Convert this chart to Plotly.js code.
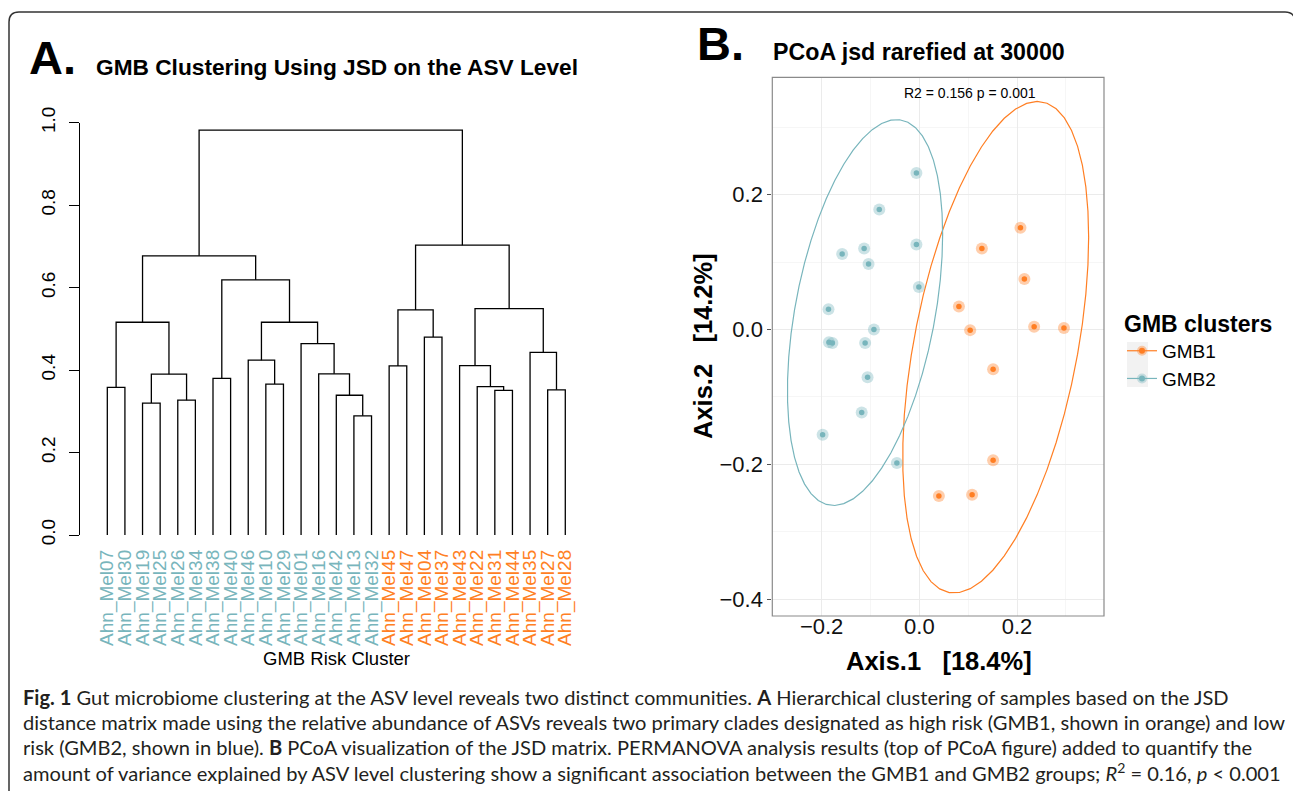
<!DOCTYPE html>
<html><head><meta charset="utf-8">
<script src="https://cdn.plot.ly/plotly-3.0.1.min.js"></script>
<style>html,body{margin:0;padding:0;background:#fff;} #chart{width:1293px;height:791px;}</style>
</head><body><div id="chart"></div>
<script>
// ---------------- DATA ----------------
// Panel A: dendrogram (leaf order, cluster membership, hclust-style merges)
const leafLabels = ['Ahn_Mel07','Ahn_Mel30','Ahn_Mel19','Ahn_Mel25','Ahn_Mel26','Ahn_Mel34','Ahn_Mel38','Ahn_Mel40',
  'Ahn_Mel46','Ahn_Mel10','Ahn_Mel29','Ahn_Mel01','Ahn_Mel16','Ahn_Mel42','Ahn_Mel13','Ahn_Mel32',
  'Ahn_Mel45','Ahn_Mel47','Ahn_Mel04','Ahn_Mel37','Ahn_Mel43','Ahn_Mel22','Ahn_Mel31','Ahn_Mel44','Ahn_Mel35','Ahn_Mel27','Ahn_Mel28'];
const leafCluster = ['GMB2','GMB2','GMB2','GMB2','GMB2','GMB2','GMB2','GMB2','GMB2','GMB2','GMB2','GMB2','GMB2','GMB2','GMB2','GMB2',
  'GMB1','GMB1','GMB1','GMB1','GMB1','GMB1','GMB1','GMB1','GMB1','GMB1','GMB1'];
// negative = leaf position (1-based), positive = earlier merge step (1-based)
const mergeLeft   = [-1,-3,-5, 2, 1,-7,-10,-9,-15,-14,-13,-12, 8, 6, 5,-17,-19,16,-23,-22,-21,-26,-25,21,18,15];
const mergeRight  = [-2,-4,-6, 3, 4,-8,-11, 7,-16,  9, 10, 11,12,13,14,-18,-20,17,-24, 19, 20,-27, 22,23,24,25];
const mergeHeight = [0.358,0.320,0.327,0.390,0.516,0.380,0.366,0.424,0.289,0.339,0.391,0.464,0.516,0.619,0.677,
  0.410,0.480,0.546,0.351,0.360,0.411,0.352,0.443,0.549,0.703,0.982];
const dendroTicks = [0.0,0.2,0.4,0.6,0.8,1.0];

// Panel B: PCoA coordinates
const gmb1X = [0.207,0.128,0.215,0.081,0.104,0.235,0.296,0.151,0.151,0.040,0.108];
const gmb1Y = [0.151,0.120,0.075,0.034,-0.001,0.004,0.002,-0.059,-0.194,-0.247,-0.245];
const gmb2X = [-0.006,-0.082,-0.006,-0.158,-0.113,-0.104,-0.001,-0.186,-0.093,-0.185,-0.178,-0.111,-0.106,-0.118,-0.198,-0.046];
const gmb2Y = [0.232,0.178,0.126,0.112,0.120,0.097,0.063,0.030,0.000,-0.019,-0.020,-0.020,-0.071,-0.123,-0.156,-0.198];
const groupNames = ['GMB1','GMB2'];
const permanovaText = 'R2 = 0.156 p = 0.001';

// ---------------- STYLE ----------------
const W = 1293, H = 791;
const ORANGE = '#FF7F24', BLUE = '#78B5BC';
const HALO = {GMB1:'rgba(255,127,36,0.38)', GMB2:'rgba(120,181,188,0.38)'};
const COL = {GMB1:ORANGE, GMB2:BLUE};
const F = 'Liberation Sans, Arial, Helvetica, sans-serif';
const px = v => v / W;
const py = v => 1 - v / H;

// ---------------- DENDROGRAM SEGMENTS ----------------
const nodeX = [], nodeH = [];
function child(c){ return c < 0 ? [-c, 0] : [nodeX[c-1], nodeH[c-1]]; }
const dx = [], dy = [];
for (let k = 0; k < mergeHeight.length; k++) {
  const [xl, hl] = child(mergeLeft[k]);
  const [xr, hr] = child(mergeRight[k]);
  const h = mergeHeight[k];
  nodeX.push((xl + xr) / 2); nodeH.push(h);
  dx.push(xl, xl, xr, xr, null);
  dy.push(hl, h, h, hr, null);
}
const leafPos = leafLabels.map((_, i) => i + 1);
const leafText = leafLabels.map((l, i) => `<span style="color:${COL[leafCluster[i]]}">${l}</span>`);

// ---------------- ELLIPSE (stat_ellipse, type t, level .95) ----------------
function covTrob(xs, ys, nu = 5, maxit = 25, tol = 0.01) {
  const n = xs.length, p = 2;
  let loc = [xs.reduce((a,b)=>a+b,0)/n, ys.reduce((a,b)=>a+b,0)/n];
  let w = new Array(n).fill(1);
  let X;
  for (let it = 0; it < maxit; it++) {
    const w0 = w.slice();
    X = xs.map((x, i) => [x - loc[0], ys[i] - loc[1]]);
    const sw = w.reduce((a,b)=>a+b,0);
    let a = 0, b = 0, c = 0;
    for (let i = 0; i < n; i++) { const f = w[i]/sw; a += f*X[i][0]*X[i][0]; b += f*X[i][0]*X[i][1]; c += f*X[i][1]*X[i][1]; }
    const det = a*c - b*b;
    w = X.map(v => (nu + p) / (nu + (c*v[0]*v[0] - 2*b*v[0]*v[1] + a*v[1]*v[1]) / det));
    const sw2 = w.reduce((s,v)=>s+v,0);
    loc = [w.reduce((s,v,i)=>s+v*xs[i],0)/sw2, w.reduce((s,v,i)=>s+v*ys[i],0)/sw2];
    if (w.every((v, i) => Math.abs(v - w0[i]) < tol)) break;
  }
  let a = 0, b = 0, c = 0;
  for (let i = 0; i < n; i++) { a += w[i]*X[i][0]*X[i][0]; b += w[i]*X[i][0]*X[i][1]; c += w[i]*X[i][1]*X[i][1]; }
  return {center: loc, cov: [a/n, b/n, c/n]};
}
function ellipse(xs, ys, level = 0.95, segments = 51) {
  const {center, cov} = covTrob(xs, ys);
  const d2 = xs.length - 1;
  const fq = (d2/2) * (Math.pow(1 - level, -2/d2) - 1);
  const r = Math.sqrt(2 * fq);
  const r11 = Math.sqrt(cov[0]), r12 = cov[1]/r11, r22 = Math.sqrt(cov[2] - r12*r12);
  const ex = [], ey = [];
  for (let k = 0; k <= segments; k++) {
    const t = k * 2 * Math.PI / segments, co = Math.cos(t), si = Math.sin(t);
    ex.push(center[0] + r * co * r11);
    ey.push(center[1] + r * (co * r12 + si * r22));
  }
  return [ex, ey];
}

const groupsX = {GMB1: gmb1X, GMB2: gmb2X};
const groupsY = {GMB1: gmb1Y, GMB2: gmb2Y};

const traces = [{
  type:'scatter', mode:'lines', x: dx, y: dy, xaxis:'x', yaxis:'y',
  line:{color:'#000', width:1.3}, hoverinfo:'skip', showlegend:false
}];
groupNames.forEach(g => {
  const [ex, ey] = ellipse(groupsX[g], groupsY[g]);
  traces.push({type:'scatter', mode:'lines', x:ex, y:ey, xaxis:'x2', yaxis:'y2',
    line:{color:COL[g], width:1.2}, showlegend:false, hoverinfo:'skip'});
});
groupNames.forEach(g => {
  traces.push({type:'scatter', mode:'markers', x:groupsX[g], y:groupsY[g], xaxis:'x2', yaxis:'y2',
    marker:{size:12, color:HALO[g]}, showlegend:false, hoverinfo:'skip'});
  traces.push({type:'scatter', mode:'markers', x:groupsX[g], y:groupsY[g], xaxis:'x2', yaxis:'y2',
    marker:{size:5.5, color:COL[g]}, showlegend:false, name:g});
});
groupNames.forEach(g => {
  traces.push({type:'scatter', mode:'lines+markers', x:[null], y:[null], xaxis:'x2', yaxis:'y2', name:g,
    line:{color:COL[g], width:1.2}, marker:{size:6, color:COL[g], line:{width:4, color:HALO[g]}}, showlegend:true});
});

function ann(text, x, y, size, opts = {}) {
  return Object.assign({text, x:px(x), y:py(y), xref:'paper', yref:'paper', showarrow:false,
    xanchor:'left', yanchor:'middle', font:{family:F, size, color:'#000'}}, opts);
}
const CF = 'Lato, Open Sans, sans-serif';
const capFont = {family: CF, size: 20.1, color:'#231F20'};
const annotations = [
  ann('<b>A.</b>', 27, 57, 47),
  ann('<b>GMB Clustering Using JSD on the ASV Level</b>', 94, 67, 22.7),
  ann('<b>B.</b>', 695, 44, 47),
  ann('<b>PCoA jsd rarefied at 30000</b>', 771, 52, 23.2),
  ann(permanovaText, 970, 93, 14, {xanchor:'center'}),
  ann('GMB Risk Cluster', 336, 658, 18.5, {xanchor:'center'}),
  ann('<b>Axis.1\u00a0\u00a0\u00a0[18.4%]</b>', 939, 661, 25.5, {xanchor:'center'}),
  ann('<b>Axis.2\u00a0\u00a0\u00a0[14.2%]</b>', 703, 346, 25.5, {xanchor:'center', textangle:-90}),
  ann('<b>Fig. 1</b> Gut microbiome clustering at the ASV level reveals two distinct communities. <b>A</b> Hierarchical clustering of samples based on the JSD', 21, 697, 20.1, {font:capFont}),
  ann('distance matrix made using the relative abundance of ASVs reveals two primary clades designated as high risk (GMB1, shown in orange) and low', 21, 722, 20.1, {font:capFont}),
  ann('risk (GMB2, shown in blue). <b>B</b> PCoA visualization of the JSD matrix. PERMANOVA analysis results (top of PCoA figure) added to quantify the', 21, 747, 20.1, {font:capFont}),
  ann('amount of variance explained by ASV level clustering show a significant association between the GMB1 and GMB2 groups; <i>R</i><sup>2</sup> = 0.16, <i>p</i> &lt; 0.001', 21, 772, 20.1, {font:capFont}),
];

const border = `M ${px(9)},${py(830)} L ${px(9)},${py(22)} Q ${px(9)},${py(12)} ${px(19)},${py(12)} L ${px(1285)},${py(12)} Q ${px(1295)},${py(12)} ${px(1295)},${py(22)} L ${px(1295)},${py(830)}`;

const layout = {
  width: W, height: H, margin:{l:0, r:0, t:0, b:0},
  paper_bgcolor:'#fff', plot_bgcolor:'rgba(0,0,0,0)',
  font:{family:F, color:'#000'},
  showlegend:true,
  xaxis:{domain:[px(98.5), px(574.1)], range:[0.5, 27.5], anchor:'y', showgrid:false, zeroline:false, showline:false,
    tickmode:'array', tickvals:leafPos, ticktext:leafText, tickangle:-90, ticks:'', tickfont:{family:F, size:19},
    ticklabelstandoff:10, fixedrange:true},
  yaxis:{domain:[py(535), py(122.7)], range:[0, 1], anchor:'free', position:px(79), showgrid:false, zeroline:false,
    showline:true, linecolor:'#000', linewidth:1, ticks:'outside', ticklen:10, tickcolor:'#000',
    tickmode:'array', tickvals:dendroTicks, tickformat:'.1f', tickangle:-90, tickfont:{family:F, size:19}, ticklabelstandoff:6},
  xaxis2:{domain:[px(772.3), px(1104)], range:[-0.301, 0.378], anchor:'free', position:py(611), tick0:0, dtick:0.2, tickformat:'.1f',
    ticks:'', tickfont:{family:F, size:22, color:'#111'},
    showgrid:true, gridcolor:'#EBEBEB', gridwidth:1,
    minor:{tick0:0, dtick:0.1, showgrid:true, gridcolor:'#F2F2F2', gridwidth:0.7},
    showline:false, zeroline:false},
  yaxis2:{domain:[py(616), py(77.3)], range:[-0.425, 0.374], anchor:'x2', tick0:0, dtick:0.2, tickformat:'.1f',
    ticks:'outside', ticklen:4, tickcolor:'#555', tickfont:{family:F, size:22, color:'#111'},
    showgrid:true, gridcolor:'#EBEBEB', gridwidth:1,
    minor:{tick0:0, dtick:0.1, showgrid:true, gridcolor:'#F2F2F2', gridwidth:0.7},
    showline:false, zeroline:false},
  legend:{x:px(1122), y:py(302), xanchor:'left', yanchor:'top', bgcolor:'rgba(0,0,0,0)',
    font:{family:F, size:19, color:'#000'}, title:{text:'<b>GMB clusters</b>', font:{family:F, size:23}},
    tracegroupgap:0, itemwidth:30},
  shapes:[
    {type:'path', xref:'paper', yref:'paper', path:border, line:{color:'#333', width:1.5}},
    {type:'rect', xref:'x2 domain', yref:'y2 domain', x0:0, x1:1, y0:0, y1:1, line:{color:'#8A8A8A', width:1.2}, layer:'above'},
    {type:'rect', xref:'paper', yref:'paper', x0:px(1127), x1:px(1148), y0:py(387), y1:py(342), fillcolor:'#F2F2F2', line:{width:0}, layer:'below'}
  ],
  annotations
};
Plotly.newPlot('chart', traces, layout, {displayModeBar:false, staticPlot:true});
</script></body></html>
